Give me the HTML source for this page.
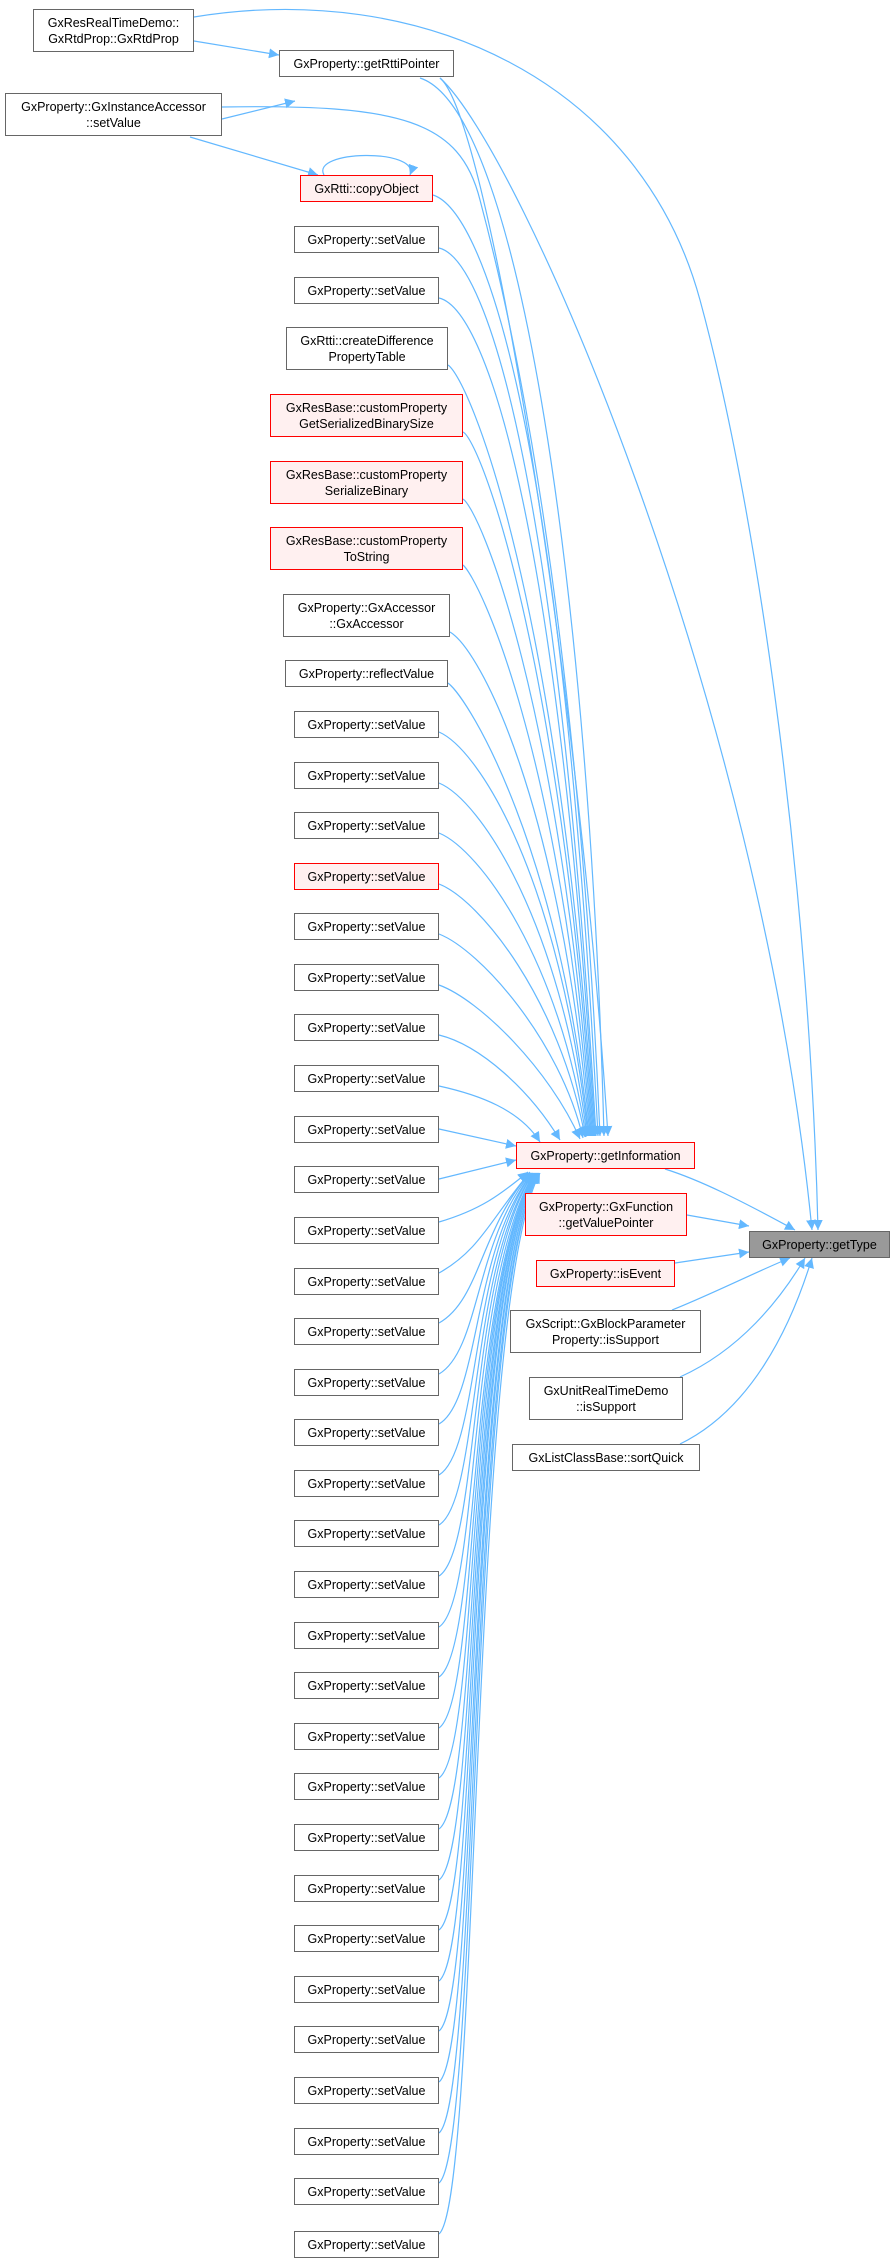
<!DOCTYPE html>
<html><head><meta charset="utf-8"><style>
body{margin:0;background:#fff;width:896px;height:2264px;position:relative;overflow:hidden;font-family:"Liberation Sans",Arial,sans-serif}
.n{position:absolute;box-sizing:border-box;border:1.5px solid #666;background:#fff;font-size:12.5px;color:#000;text-align:center;display:flex;align-items:center;justify-content:center;line-height:16px;white-space:nowrap}
.r{border-color:#f00;background:#fff0f0}
.g{background:#999;border-color:#666}
svg{position:absolute;left:0;top:0}
</style></head><body>
<svg width="896" height="2264" viewBox="0 0 896 2264">
<defs><marker id="a" markerWidth="12" markerHeight="12" refX="10" refY="5" orient="auto" markerUnits="userSpaceOnUse"><path d="M0,0 L10,5 L0,10 z" fill="#63b8ff"/></marker></defs>
<g fill="none" stroke="#63b8ff" stroke-width="1.2" marker-end="url(#a)">
<path d="M194,41 L279,55"/>
<path d="M222,119 L295,101"/>
<path d="M190,137 L318,175"/>
<path d="M324,175 C310,150 420,148 410,175"/>
<path d="M194,17 C420,-20 640,80 700,300 C760,520 810,900 818,1230"/>
<path d="M440,78 C520,150 760,700 812,1230"/>
<path d="M420,78 C520,110 590,600 604,1136"/>
<path d="M440,78 C490,120 580,700 608,1136"/>
<path d="M222,107 C400,104 460,120 480,200 C560,500 590,900 600,1136"/>
<path d="M433,195 C480,210 560,400 598,1136"/>
<path d="M439,248 C490,260 560,500 596,1136"/>
<path d="M439,298 C490,310 560,550 595,1136"/>
<path d="M448,365 C470,380 560,600 594,1136"/>
<path d="M463,432 C480,440 560,650 593,1136"/>
<path d="M463,499 C480,510 560,700 592,1136"/>
<path d="M463,565 C480,580 560,750 591,1136"/>
<path d="M450,632 C480,650 560,800 590,1136"/>
<path d="M448,683 C470,700 560,850 589,1136"/>
<path d="M439,732 C480,750 560,880 588,1136"/>
<path d="M439,783 C480,800 560,920 587,1136"/>
<path d="M439,833 C480,850 560,960 586,1137"/>
<path d="M439,884 C480,900 560,1000 585,1137"/>
<path d="M439,934 C480,950 560,1040 583,1138"/>
<path d="M439,985 C480,1000 550,1070 580,1139"/>
<path d="M439,1035 C480,1045 530,1090 560,1140"/>
<path d="M439,1086 C480,1095 520,1110 540,1142"/>
<path d="M439,1129 L516,1146"/>
<path d="M439,1179 L516,1160"/>
<g>
<path d="M439,1222 C480,1210 500,1195 528,1172"/>
<path d="M439,1273 C480,1250 490,1220 530,1172"/>
<path d="M439,1323 C480,1300 480,1230 530,1173"/>
<path d="M439,1374 C480,1350 475,1240 531,1173"/>
<path d="M439,1424 C480,1400 472,1250 532,1173"/>
<path d="M439,1475 C480,1450 470,1260 532,1173"/>
<path d="M439,1525 C480,1500 468,1270 533,1173"/>
<path d="M439,1576 C480,1550 467,1280 533,1173"/>
<path d="M439,1627 C480,1600 466,1290 534,1173"/>
<path d="M439,1677 C480,1650 466,1300 534,1173"/>
<path d="M439,1728 C480,1700 465,1300 535,1173"/>
<path d="M439,1778 C480,1750 465,1300 535,1173"/>
<path d="M439,1829 C480,1800 465,1300 536,1173"/>
<path d="M439,1880 C480,1850 465,1300 536,1173"/>
<path d="M439,1930 C480,1900 465,1300 537,1173"/>
<path d="M439,1981 C480,1950 465,1300 537,1173"/>
<path d="M439,2031 C480,2000 466,1300 538,1173"/>
<path d="M439,2082 C480,2050 466,1300 538,1173"/>
<path d="M439,2133 C480,2100 467,1300 539,1173"/>
<path d="M439,2183 C480,2150 468,1300 539,1173"/>
<path d="M439,2234 C480,2200 470,1300 540,1173"/>
</g>
<path d="M665,1169 C700,1180 740,1200 795,1230"/>
<path d="M687,1215 L749,1226"/>
<path d="M675,1263 L749,1252"/>
<path d="M672,1310 C710,1295 760,1270 790,1258"/>
<path d="M680,1377 C740,1350 780,1300 805,1258"/>
<path d="M680,1444 C750,1410 790,1330 812,1258"/>
</g>
</svg>
<div class="n" style="left:33px;top:9px;width:161px;height:43px">GxResRealTimeDemo::<br>GxRtdProp::GxRtdProp</div>
<div class="n" style="left:279px;top:50px;width:175px;height:27px">GxProperty::getRttiPointer</div>
<div class="n" style="left:5px;top:93px;width:217px;height:43px">GxProperty::GxInstanceAccessor<br>::setValue</div>
<div class="n r" style="left:300px;top:175px;width:133px;height:27px">GxRtti::copyObject</div>
<div class="n" style="left:294px;top:226px;width:145px;height:27px">GxProperty::setValue</div>
<div class="n" style="left:294px;top:277px;width:145px;height:27px">GxProperty::setValue</div>
<div class="n" style="left:286px;top:327px;width:162px;height:43px">GxRtti::createDifference<br>PropertyTable</div>
<div class="n r" style="left:270px;top:394px;width:193px;height:43px">GxResBase::customProperty<br>GetSerializedBinarySize</div>
<div class="n r" style="left:270px;top:461px;width:193px;height:43px">GxResBase::customProperty<br>SerializeBinary</div>
<div class="n r" style="left:270px;top:527px;width:193px;height:43px">GxResBase::customProperty<br>ToString</div>
<div class="n" style="left:283px;top:594px;width:167px;height:43px">GxProperty::GxAccessor<br>::GxAccessor</div>
<div class="n" style="left:285px;top:660px;width:163px;height:27px">GxProperty::reflectValue</div>
<div class="n" style="left:294px;top:711px;width:145px;height:27px">GxProperty::setValue</div>
<div class="n" style="left:294px;top:762px;width:145px;height:27px">GxProperty::setValue</div>
<div class="n" style="left:294px;top:812px;width:145px;height:27px">GxProperty::setValue</div>
<div class="n r" style="left:294px;top:863px;width:145px;height:27px">GxProperty::setValue</div>
<div class="n" style="left:294px;top:913px;width:145px;height:27px">GxProperty::setValue</div>
<div class="n" style="left:294px;top:964px;width:145px;height:27px">GxProperty::setValue</div>
<div class="n" style="left:294px;top:1014px;width:145px;height:27px">GxProperty::setValue</div>
<div class="n" style="left:294px;top:1065px;width:145px;height:27px">GxProperty::setValue</div>
<div class="n" style="left:294px;top:1116px;width:145px;height:27px">GxProperty::setValue</div>
<div class="n" style="left:294px;top:1166px;width:145px;height:27px">GxProperty::setValue</div>
<div class="n" style="left:294px;top:1217px;width:145px;height:27px">GxProperty::setValue</div>
<div class="n" style="left:294px;top:1268px;width:145px;height:27px">GxProperty::setValue</div>
<div class="n" style="left:294px;top:1318px;width:145px;height:27px">GxProperty::setValue</div>
<div class="n" style="left:294px;top:1369px;width:145px;height:27px">GxProperty::setValue</div>
<div class="n" style="left:294px;top:1419px;width:145px;height:27px">GxProperty::setValue</div>
<div class="n" style="left:294px;top:1470px;width:145px;height:27px">GxProperty::setValue</div>
<div class="n" style="left:294px;top:1520px;width:145px;height:27px">GxProperty::setValue</div>
<div class="n" style="left:294px;top:1571px;width:145px;height:27px">GxProperty::setValue</div>
<div class="n" style="left:294px;top:1622px;width:145px;height:27px">GxProperty::setValue</div>
<div class="n" style="left:294px;top:1672px;width:145px;height:27px">GxProperty::setValue</div>
<div class="n" style="left:294px;top:1723px;width:145px;height:27px">GxProperty::setValue</div>
<div class="n" style="left:294px;top:1773px;width:145px;height:27px">GxProperty::setValue</div>
<div class="n" style="left:294px;top:1824px;width:145px;height:27px">GxProperty::setValue</div>
<div class="n" style="left:294px;top:1875px;width:145px;height:27px">GxProperty::setValue</div>
<div class="n" style="left:294px;top:1925px;width:145px;height:27px">GxProperty::setValue</div>
<div class="n" style="left:294px;top:1976px;width:145px;height:27px">GxProperty::setValue</div>
<div class="n" style="left:294px;top:2026px;width:145px;height:27px">GxProperty::setValue</div>
<div class="n" style="left:294px;top:2077px;width:145px;height:27px">GxProperty::setValue</div>
<div class="n" style="left:294px;top:2128px;width:145px;height:27px">GxProperty::setValue</div>
<div class="n" style="left:294px;top:2178px;width:145px;height:27px">GxProperty::setValue</div>
<div class="n" style="left:294px;top:2231px;width:145px;height:27px">GxProperty::setValue</div>
<div class="n r" style="left:516px;top:1142px;width:179px;height:27px">GxProperty::getInformation</div>
<div class="n r" style="left:525px;top:1193px;width:162px;height:43px">GxProperty::GxFunction<br>::getValuePointer</div>
<div class="n r" style="left:536px;top:1260px;width:139px;height:27px">GxProperty::isEvent</div>
<div class="n" style="left:510px;top:1310px;width:191px;height:43px">GxScript::GxBlockParameter<br>Property::isSupport</div>
<div class="n" style="left:529px;top:1377px;width:154px;height:43px">GxUnitRealTimeDemo<br>::isSupport</div>
<div class="n" style="left:512px;top:1444px;width:188px;height:27px">GxListClassBase::sortQuick</div>
<div class="n g" style="left:749px;top:1231px;width:141px;height:27px">GxProperty::getType</div>
</body></html>
